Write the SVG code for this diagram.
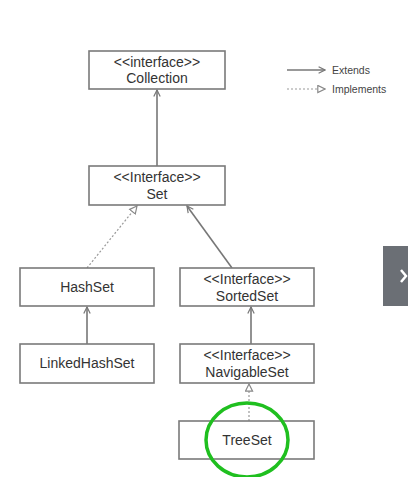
<svg xmlns="http://www.w3.org/2000/svg" width="408" height="477" viewBox="0 0 408 477">
<defs>
<style>
.box{fill:#fff;stroke:#7a7a7a;stroke-width:1.6}
.t{font-family:"Liberation Sans",Arial,sans-serif;font-size:14px;fill:#333;text-anchor:middle}
.lg{font-family:"Liberation Sans",Arial,sans-serif;font-size:10.5px;fill:#444}
.ext{stroke:#777;stroke-width:1.6;fill:none;marker-end:url(#open)}
.imp{stroke:#999;stroke-width:1.2;stroke-dasharray:2 2;fill:none;marker-end:url(#tri)}
</style>
<marker id="open" viewBox="0 0 10 10" refX="9" refY="5" markerWidth="8" markerHeight="8" markerUnits="userSpaceOnUse" orient="auto">
<path d="M1,1 L9,5 L1,9" fill="none" stroke="#777" stroke-width="1.5"/>
</marker>
<marker id="tri" viewBox="0 0 10 10" refX="9" refY="5" markerWidth="9" markerHeight="9" markerUnits="userSpaceOnUse" orient="auto">
<path d="M1,1 L9,5 L1,9 Z" fill="#fff" stroke="#888" stroke-width="1.3"/>
</marker>
</defs>
<rect width="408" height="477" fill="#fff"/>
<g id="connectors">
<line class="ext" x1="157" y1="166" x2="157" y2="90"/>
<line class="imp" x1="87" y1="268" x2="137" y2="206"/>
<line class="ext" x1="232" y1="268" x2="187" y2="206"/>
<line class="ext" x1="87" y1="344" x2="87" y2="307"/>
<line class="ext" x1="251" y1="344" x2="251" y2="307"/>
<line class="imp" x1="249" y1="421" x2="249" y2="384"/>
</g>
<g id="collection">
<rect class="box" x="89" y="51" width="136" height="38"/>
<text class="t" x="157" y="67">&lt;&lt;interface&gt;&gt;</text>
<text class="t" x="157" y="83">Collection</text>
</g>
<g id="set">
<rect class="box" x="89" y="166" width="136" height="39"/>
<text class="t" x="157" y="182">&lt;&lt;Interface&gt;&gt;</text>
<text class="t" x="157" y="199">Set</text>
</g>
<g id="hashset">
<rect class="box" x="20" y="268" width="134" height="38"/>
<text class="t" x="87" y="292">HashSet</text>
</g>
<g id="linkedhashset">
<rect class="box" x="20" y="344" width="134" height="39"/>
<text class="t" x="87" y="368">LinkedHashSet</text>
</g>
<g id="sortedset">
<rect class="box" x="180" y="268" width="134" height="38"/>
<text class="t" x="247" y="284">&lt;&lt;Interface&gt;&gt;</text>
<text class="t" x="247" y="301">SortedSet</text>
</g>
<g id="navigableset">
<rect class="box" x="180" y="344" width="134" height="39"/>
<text class="t" x="247" y="360">&lt;&lt;Interface&gt;&gt;</text>
<text class="t" x="247" y="377">NavigableSet</text>
</g>
<g id="treeset">
<rect class="box" x="179" y="421" width="135" height="38"/>
<text class="t" x="247" y="445">TreeSet</text>
</g>
<g id="highlight">
<ellipse cx="247" cy="440" rx="41" ry="37" fill="none" stroke="#1fbf1f" stroke-width="3.5"/>
</g>
<g id="legend">
<line class="ext" x1="287" y1="70" x2="325" y2="70"/>
<text class="lg" x="332" y="74">Extends</text>
<line class="imp" x1="287" y1="89" x2="325" y2="89"/>
<text class="lg" x="332" y="93">Implements</text>
</g>
<g id="side-button">
<rect x="383" y="246" width="25" height="60" fill="#6b6f75"/>
<path d="M401,270 L406,276 L401,282" fill="none" stroke="#fff" stroke-width="2.5"/>
</g>
</svg>
